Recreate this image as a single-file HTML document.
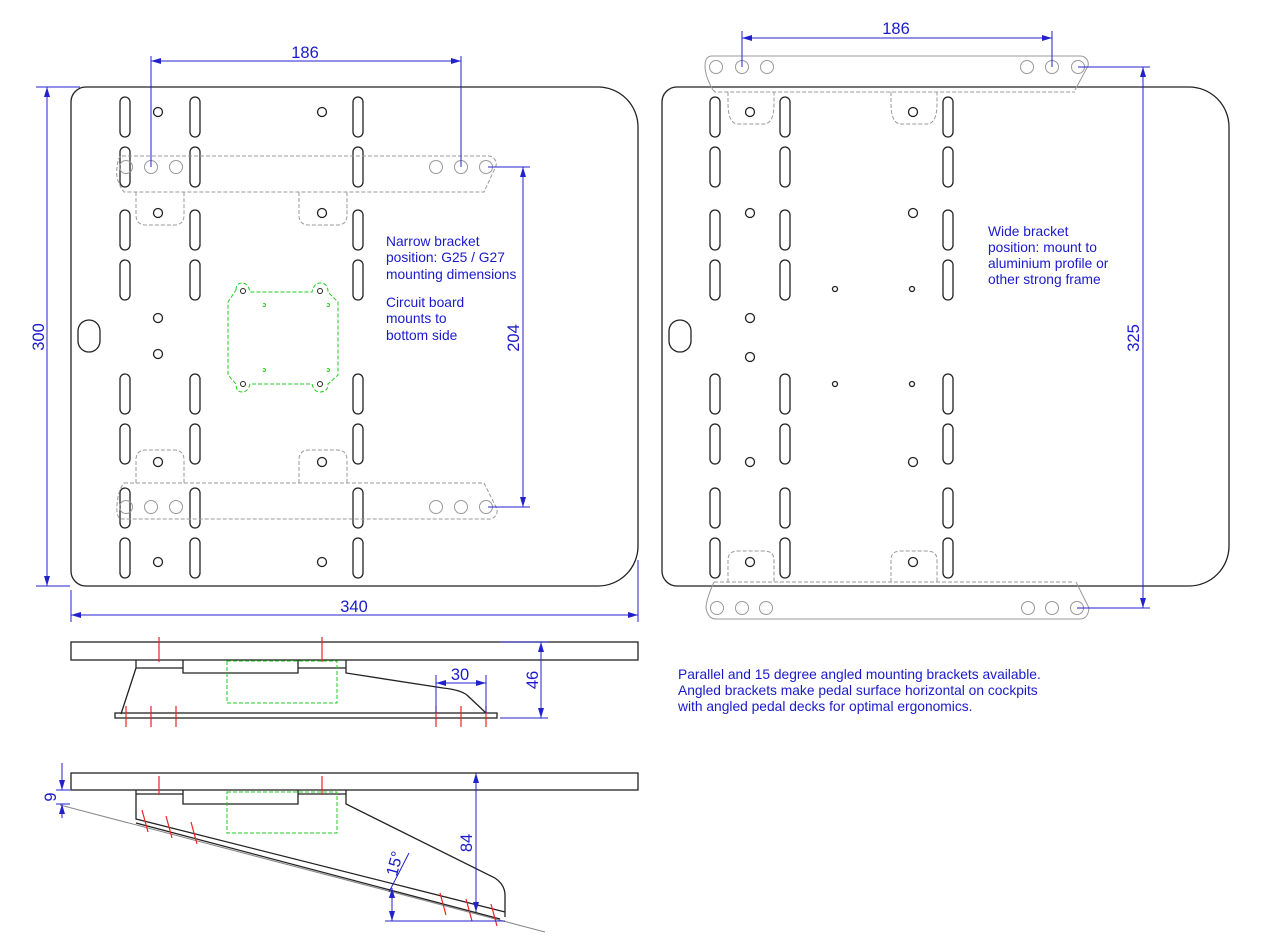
<!DOCTYPE html>
<html><head><meta charset="utf-8"><style>
html,body{margin:0;padding:0;background:#fff;}
svg{display:block;font-family:"Liberation Sans",Arial,sans-serif;}
.o{fill:none;stroke:#222;stroke-width:1.3}
.d{fill:none;stroke:#999;stroke-width:1;stroke-dasharray:4 2}
.g{fill:none;stroke:#999;stroke-width:1}
.gr{fill:none;stroke:#2c2;stroke-width:1;stroke-dasharray:4 2}
.b{fill:none;stroke:#22c;stroke-width:1}
.r{stroke:#e22;stroke-width:1.2}
.t{fill:#1a1acc;font-size:13.8px}
.tb{fill:#1a1acc;font-size:16.5px}
</style></head><body>
<svg width="1266" height="950" viewBox="0 0 1266 950">
<defs>
<rect id="s" width="10" height="40" rx="5" class="o"/>
<circle id="h" r="4.5" class="o"/>
<circle id="bh" r="6.5" class="g"/>
<marker id="a" viewBox="0 0 10 6" refX="10" refY="3" markerWidth="10" markerHeight="6" orient="auto-start-reverse"><path d="M0,0L10,3L0,6z" fill="#22c"/></marker>
<g id="col">
<use href="#s" y="97"/><use href="#s" y="147"/><use href="#s" y="210"/><use href="#s" y="260"/>
<use href="#s" y="374"/><use href="#s" y="424"/><use href="#s" y="488"/><use href="#s" y="538"/>
</g>
</defs>

<!-- LEFT PLATE -->
<path class="o" d="M86,87H598A40,40 0 0 1 638,127V546A40,40 0 0 1 598,586H86A15,15 0 0 1 71,571V102A15,15 0 0 1 86,87Z"/>
<rect x="78" y="320" width="22" height="32" rx="11" class="o"/>
<use href="#col" x="120"/><use href="#col" x="190"/><use href="#col" x="353"/>
<use href="#h" x="158" y="112"/><use href="#h" x="322" y="112"/>
<use href="#h" x="158" y="213"/><use href="#h" x="322" y="213"/>
<use href="#h" x="158" y="318"/><use href="#h" x="158" y="354"/>
<use href="#h" x="158" y="462"/><use href="#h" x="322" y="462"/>
<use href="#h" x="158" y="562"/><use href="#h" x="322" y="562"/>
<path class="d" d="M122,156H488A8,8 0 0 1 496,166L484,192H124Q115,180 117,168Q118,156 122,156Z"/>
<path class="d" d="M136,192V215Q136,225 146,225H174Q184,225 184,215V192M299,192V215Q299,225 309,225H337Q347,225 347,215V192"/>
<use href="#bh" x="126" y="167"/><use href="#bh" x="151" y="167"/><use href="#bh" x="176" y="167"/>
<use href="#bh" x="436" y="167"/><use href="#bh" x="461" y="167"/><use href="#bh" x="486" y="167"/>
<path class="d" d="M124,483H484L496,507A8,8 0 0 1 488,519H122Q116,519 117,505Q118,490 124,483Z"/>
<path class="d" d="M136,483V460Q136,450 146,450H174Q184,450 184,460V483M299,483V460Q299,450 309,450H337Q347,450 347,460V483"/>
<use href="#bh" x="126" y="507"/><use href="#bh" x="151" y="507"/><use href="#bh" x="176" y="507"/>
<use href="#bh" x="436" y="507"/><use href="#bh" x="461" y="507"/><use href="#bh" x="486" y="507"/>
<path class="gr" d="M236,290Q236,283 242,283Q248,283 250,292H312Q314,283 320,283Q328,283 328,292L338,302V375L328,384Q328,392 320,392Q314,392 312,384H250Q248,392 242,392Q236,392 236,384L228,375V302Z"/>
<circle cx="243" cy="291" r="2.5" fill="none" stroke="#222"/><circle cx="320" cy="291" r="2.5" fill="none" stroke="#222"/>
<circle cx="243" cy="384" r="2.5" fill="none" stroke="#222"/><circle cx="320" cy="384" r="2.5" fill="none" stroke="#222"/>
<circle cx="264" cy="305" r="1.5" class="gr"/><circle cx="328" cy="305" r="1.5" class="gr"/>
<circle cx="264" cy="370" r="1.5" class="gr"/><circle cx="328" cy="370" r="1.5" class="gr"/>
<line class="b" x1="151" y1="167" x2="151" y2="56"/><line class="b" x1="461" y1="167" x2="461" y2="56"/>
<line class="b" x1="151" y1="61" x2="461" y2="61" marker-start="url(#a)" marker-end="url(#a)"/>
<text class="tb" x="305" y="58" text-anchor="middle">186</text>
<line class="b" x1="36" y1="87" x2="80" y2="87"/><line class="b" x1="36" y1="586" x2="70" y2="586"/>
<line class="b" x1="47" y1="87" x2="47" y2="586" marker-start="url(#a)" marker-end="url(#a)"/>
<text class="tb" x="0" y="0" text-anchor="middle" transform="translate(44,337) rotate(-90)">300</text>
<line class="b" x1="71" y1="590" x2="71" y2="622"/><line class="b" x1="638" y1="560" x2="638" y2="622"/>
<line class="b" x1="71" y1="615" x2="638" y2="615" marker-start="url(#a)" marker-end="url(#a)"/>
<text class="tb" x="354" y="612" text-anchor="middle">340</text>
<line class="b" x1="488" y1="167" x2="530" y2="167"/><line class="b" x1="488" y1="507" x2="530" y2="507"/>
<line class="b" x1="523" y1="167" x2="523" y2="507" marker-start="url(#a)" marker-end="url(#a)"/>
<text class="tb" x="0" y="0" text-anchor="middle" transform="translate(519,338) rotate(-90)">204</text>
<text class="t" x="386" y="246">Narrow bracket</text>
<text class="t" x="386" y="262">position: G25 / G27</text>
<text class="t" x="386" y="279">mounting dimensions</text>
<text class="t" x="386" y="307">Circuit board</text>
<text class="t" x="386" y="323">mounts to</text>
<text class="t" x="386" y="340">bottom side</text>

<!-- RIGHT PLATE -->
<path class="o" d="M677,87H1189A40,40 0 0 1 1229,127V546A40,40 0 0 1 1189,586H677A15,15 0 0 1 662,571V102A15,15 0 0 1 677,87Z"/>
<rect x="669" y="320" width="22" height="32" rx="11" class="o"/>
<use href="#col" x="710"/><use href="#col" x="780"/><use href="#col" x="943"/>
<use href="#h" x="750" y="112"/><use href="#h" x="913" y="112"/>
<use href="#h" x="750" y="213"/><use href="#h" x="913" y="213"/>
<circle cx="835" cy="289" r="2.5" class="o"/><circle cx="912" cy="289" r="2.5" class="o"/>
<use href="#h" x="750" y="318"/><use href="#h" x="750" y="357"/>
<circle cx="835" cy="384" r="2.5" class="o"/><circle cx="912" cy="384" r="2.5" class="o"/>
<use href="#h" x="750" y="462"/><use href="#h" x="913" y="462"/>
<use href="#h" x="750" y="562"/><use href="#h" x="913" y="562"/>
<path class="g" d="M712,56H1080A8,8 0 0 1 1088,66L1075,90"/>
<path class="g" d="M712,56Q705,56 705,66Q705,76 713,90"/>
<path class="d" d="M713,90L715,92H1075"/>
<path class="d" d="M728,92V103Q728,124 738,124H764Q774,124 774,103V92M891,92V103Q891,124 901,124H927Q937,124 937,103V92"/>
<use href="#bh" x="716" y="67"/><use href="#bh" x="742" y="67"/><use href="#bh" x="767" y="67"/>
<use href="#bh" x="1027" y="67"/><use href="#bh" x="1052" y="67"/><use href="#bh" x="1078" y="67"/>
<path class="d" d="M714,582H1074M728,582V560Q728,551 738,551H764Q774,551 774,560V582M891,582V560Q891,551 901,551H927Q937,551 937,560V582"/>
<path class="g" d="M714,582Q706,600 706,608Q708,619 716,619H1080Q1088,619 1089,608L1076,582"/>
<use href="#bh" x="717" y="608"/><use href="#bh" x="742" y="608"/><use href="#bh" x="766" y="608"/>
<use href="#bh" x="1028" y="608"/><use href="#bh" x="1052" y="608"/><use href="#bh" x="1077" y="608"/>
<line class="b" x1="742" y1="67" x2="742" y2="31"/><line class="b" x1="1052" y1="67" x2="1052" y2="31"/>
<line class="b" x1="742" y1="38" x2="1052" y2="38" marker-start="url(#a)" marker-end="url(#a)"/>
<text class="tb" x="896" y="34" text-anchor="middle">186</text>
<line class="b" x1="1078" y1="67" x2="1150" y2="67"/><line class="b" x1="1077" y1="608" x2="1150" y2="608"/>
<line class="b" x1="1143" y1="67" x2="1143" y2="608" marker-start="url(#a)" marker-end="url(#a)"/>
<text class="tb" x="0" y="0" text-anchor="middle" transform="translate(1139,338) rotate(-90)">325</text>
<text class="t" x="988" y="236">Wide bracket</text>
<text class="t" x="988" y="252">position: mount to</text>
<text class="t" x="988" y="268">aluminium profile or</text>
<text class="t" x="988" y="284">other strong frame</text>
<text class="t" x="678" y="679">Parallel and 15 degree angled mounting brackets available.</text>
<text class="t" x="678" y="695">Angled brackets make pedal surface horizontal on cockpits</text>
<text class="t" x="678" y="711">with angled pedal decks for optimal ergonomics.</text>

<!-- SIDE VIEW 1 -->
<rect x="71" y="642" width="567" height="18" class="o"/>
<path class="o" d="M136,660V668H183M136,668L121,714M183,660V673H298V660M298,668H346V660M346,668V673L443,688Q462,690 468,696L486,713"/>
<rect x="115" y="713" width="382" height="5" class="o" stroke-width="1"/>
<rect x="227" y="661" width="110" height="42" class="gr"/>
<g class="r"><line x1="159" y1="637" x2="159" y2="662"/><line x1="322" y1="637" x2="322" y2="662"/>
<line x1="126" y1="706" x2="126" y2="727"/><line x1="151" y1="706" x2="151" y2="727"/><line x1="176" y1="706" x2="176" y2="727"/>
<line x1="436" y1="706" x2="436" y2="727"/><line x1="461" y1="706" x2="461" y2="727"/><line x1="486" y1="706" x2="486" y2="727"/></g>
<line class="b" x1="436" y1="675" x2="436" y2="713"/><line class="b" x1="486" y1="675" x2="486" y2="713"/>
<line class="b" x1="436" y1="683" x2="486" y2="683" marker-start="url(#a)" marker-end="url(#a)"/>
<text class="tb" x="460" y="680" text-anchor="middle">30</text>
<line class="b" x1="500" y1="642" x2="548" y2="642"/><line class="b" x1="500" y1="718" x2="548" y2="718"/>
<line class="b" x1="541" y1="642" x2="541" y2="718" marker-start="url(#a)" marker-end="url(#a)"/>
<text class="tb" x="0" y="0" text-anchor="middle" transform="translate(538,680) rotate(-90)">46</text>

<!-- SIDE VIEW 2 -->
<rect x="71" y="773" width="567" height="17" class="o"/>
<path class="o" d="M136,790V794H183M183,790V804H298V790M298,794H346V790V804L495,878Q505,885 505,895V917M136,794V819L505,912M136,823L500,919"/>
<rect x="227" y="792" width="110" height="41" class="gr"/>
<line x1="60" y1="805" x2="545" y2="932" stroke="#888" stroke-width="1"/>
<g class="r"><line x1="159" y1="776" x2="159" y2="795"/><line x1="322" y1="776" x2="322" y2="795"/>
<line x1="148" y1="832" x2="142" y2="810"/><line x1="172" y1="838" x2="166" y2="816"/><line x1="197" y1="844" x2="191" y2="822"/>
<line x1="446" y1="915" x2="440" y2="893"/><line x1="472" y1="921" x2="466" y2="899"/><line x1="497" y1="926" x2="491" y2="904"/></g>
<line class="b" x1="476" y1="773" x2="476" y2="912" marker-start="url(#a)" marker-end="url(#a)"/>
<text class="tb" x="0" y="0" text-anchor="middle" transform="translate(472,843) rotate(-90)">84</text>
<line class="b" x1="385" y1="921" x2="505" y2="921"/>
<line class="b" x1="392" y1="888" x2="392" y2="921" marker-start="url(#a)" marker-end="url(#a)"/>
<line class="b" x1="389" y1="892" x2="409" y2="853"/>
<text class="tb" x="0" y="0" text-anchor="middle" transform="translate(400,865) rotate(-75)">15°</text>
<line class="b" x1="56" y1="790" x2="70" y2="790"/><line class="b" x1="56" y1="804" x2="70" y2="804"/>
<line class="b" x1="62" y1="763" x2="62" y2="790" marker-end="url(#a)"/>
<line class="b" x1="62" y1="818" x2="62" y2="804" marker-end="url(#a)"/>
<text class="tb" x="0" y="0" text-anchor="middle" transform="translate(56,797) rotate(-90)">9</text>
</svg>
</body></html>
